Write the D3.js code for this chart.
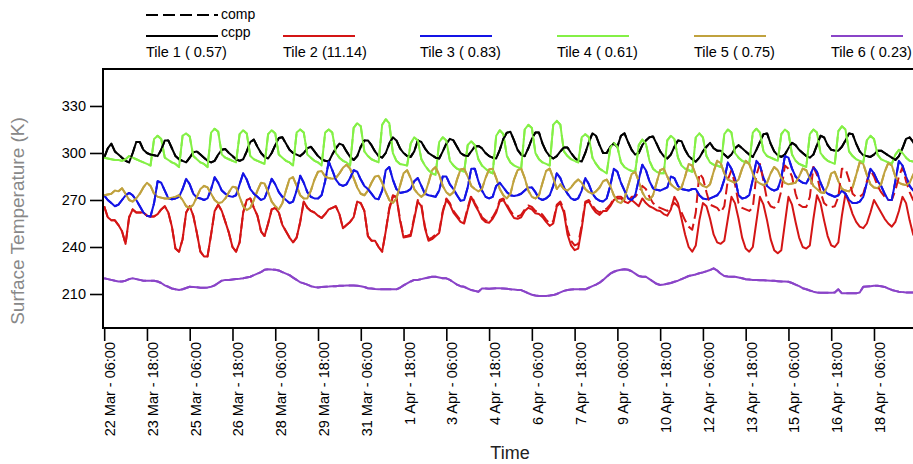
<!DOCTYPE html>
<html>
<head>
<meta charset="utf-8">
<script src="https://cdn.jsdelivr.net/npm/d3@7"></script>
<style>
  body { margin: 0; background: #fff; }
  text { font-family: "Liberation Sans", Arial, Helvetica, sans-serif; }
</style>
</head>
<body>
<div id="chart"></div>
<script>
// samples every 3 hours, first one at 22 Mar 06:00
var startTime = Date.UTC(2015, 2, 22, 6, 0);
var stepHours = 3;

var tileNames = ["Tile 1 ( 0.57)", "Tile 2 (11.14)", "Tile 3 ( 0.83)", "Tile 4 ( 0.61)", "Tile 5 ( 0.75)", "Tile 6 ( 0.23)"];
var tileColors = ["#000000", "#d41515", "#1414e6", "#84f046", "#c0a23e", "#8a44c8"];

// ccpp, one row per day
var tile1 = [
  297,303,306,301,299,297,295,294,
  300,307,307,302,300,299,298.5,298,
  302,308,308,303,298,296,295,294,
  297,300.5,301,299,297,295,294,295,
  299,302,302.5,300,298,296,295,296,
  301,307,308.5,304,300,297.5,296.5,300,
  305,309.5,310,306,302,300,299,298,
  300,303,304,301,298,296,295,294.5,
  299,303,306,305,301,297.5,295.5,298,
  304,308,308,305,301,298,297,300,
  306,310,308,303,300,298,297.5,301,
  308,307,303,300,298.5,297,296.5,301,
  306,309,308,304,300,298.5,298,301,
  304,304.5,303,300,298,297,296.5,302,
  309,313,313.5,308,302,299,298,303,
  309,313,313,306,301,298,296.5,298,
  301,303.5,303.5,300,297,295,294.5,300,
  307,312.5,311,305,300,300,304,306,
  304,311,312.5,307,302,299,300,305,
  308,310,310.5,306,301,298,296.5,299,
  304,308,307.5,302,298,296,294.5,297,
  301,304,306.5,303,301.5,301.5,299,297,
  299,303,305,303,301,299,297.5,302,
  307,312,312.5,306,301,298.5,297.5,299,
  303,306.5,305,302,300,298,297,299,
  305,311,310,305,302,301.5,301.5,304,
  308,312.5,312,306,301,298.5,298,297.5,
  299,301.5,301.5,300,298.5,297,295.5,298,
  303,309,310,307,303,300,298,297
];
var tile2 = [
  266,259,257,257,254,250,242,259,
  264,262,262,262,260,259.5,259.5,261,
  264,266,262,253,239,237,245,262,
  266,260,249,237,234,234,248,263,
  267,263,256,249,240,237,243,262,
  270,271,265,260,250,247,255,264,
  265,262,254,250,246,243,246,256,
  269,265,263,262,260,258.5,261,264,
  265,266,261,252,254,256,259,269,
  268,263,247,244,244,240,237,250,
  264,272,272,257,246,246.5,247,258,
  269,266,252,244,245,247,249,262,
  270,267,262,259,256,255,264,272,
  267,263,258,256,255.5,258,262,269,
  270,266,262,258.5,258,259,263,265,
  264,261.5,261,259,256,253.5,255,266,
  268,262,248,241,238,239,252,268,
  269,265,262,260.5,263,263,266,270,
  271,271,269,268,270,268,266,271,
  268,266,265,263.5,263,261,260,264,
  272,268,258,248,240,237,241,257,
  268,266,258,248,243,242,244,258,
  272,268,258,246,239,237,240,256,
  272,267,257,245,238,236,238,255,
  272,267,256,246,240,239,241,258,
  273,268,257,247,241,240,243,260,
  274,268,261,256,253,252,255,262,
  270,266,262,258,255,253,256,263,
  272,268,257,248,244,243,246,258
];
var tile3 = [
  273,270,268,266,267,270,273,274.5,
  273,270,266,262,260,259.5,268,282,
  281,276,271,270.5,271,272,277,283.5,
  280,274,271.5,271,270,271,277,284.5,
  281,276,274,272.5,272,273,280,287,
  283,277,274,272,270,271,277,283.5,
  280,275,272,270,268,269,276,285.5,
  281,275,272,271,271,273,282,294.5,
  289,283,280,279,280,284,289,288,
  283,279,277,274,271,270.5,276,289,
  291,283,277,274.5,275,275.5,277,282,
  284,279,274,273,272.5,272,276,285,
  285,280,277,273,269.5,270,278,290,
  290,282,276,272,271,272,279,281,
  278,275,273,272.5,273,274,276,278,
  278,275,271,270,271,273,279,287,
  284,278,274,271,270,271,276,284,
  280,274,271,269.5,269,271,279,290,
  288,281,276,271,270,273,283,292.5,
  289,282,277.5,276.5,276,277,278,285,
  284,279,277,276.5,276,277,277,273,
  271,270.5,271,272,273,276,283,294,
  290,284,273,271,271.5,273,283,295,
  292,284,279,277,276,277,284,298,
  297,290,285,282.5,281,280.5,285,291,
  288,281,276,274,273,272,273,276,
  274,270,268,268,269,272,281,290,
  287,282,279,274,270,270,282,295,
  292,285,279,276,274,273,276,285
];
var tile4 = [
  297,296.5,296,295.5,295.5,295,296,298,
  297,296,295,294,293,292,309,311,
  309,297,295.5,294,293,291,311,312.5,
  310.5,298,296,294,293,291,313,315.5,
  313.5,299,297,296,295,294,312,314.5,
  312.5,298,296,295,294,293,312,314.5,
  312.5,299,297,295,294,292,313,315,
  313,299,297,295,294,292,313,315,
  313,300,297,295,294,292,316,319,
  317,301,298,296,295,294,318,321.5,
  319,300,295,293,292.5,292,306,310,
  308,296,292,289,287,286,307,310,
  308,295,292,290,289,288,305,307.5,
  305,296,292,290,288,287,311,314.5,
  312,298,294,292,291,290,315,318,
  316,300,296,294,293,292,318,320.5,
  318,301,298,296,295,294,310,312,
  310,297,293,290,288.5,287,303,306.5,
  304,294,291,289.5,288.5,288,305,308.5,
  306,295,290,288,287,287,308,311,
  309,297,292,290,289,288,310,312.5,
  310,298,294,292.5,292,291,312,315,
  313,300,297,295,294,293,313,315.5,
  313,301,298,297,296,295,312,315,
  313,299,295,293,292,291,312,315,
  313,300,297,295,294,293,314,317,
  315,301,298,296,295,294,308,311,
  309,299,296,295,294,293,299,302,
  300,297,295,294.5,294,294,295,295
];
var tile5 = [
  273,273.5,274,276,275.5,277.5,274,270,
  269,271,274,278,281,279,274,272,
  271.5,271,271,271.5,272,273,270,266,
  265,267,272,277,279,278,274,270,
  268,268.5,271,275,278.5,278,272,266,
  263.5,265,270,276,281,280.5,275,269,
  266,264,268,276,283.5,284.5,279,273,
  271,271,276,283,288,288.5,285,284,
  283.5,284,287,290.5,292.5,290,284,278,
  274,273,276,281,285,285.5,281,275,
  270,268,271,279,287,289,284,277,
  274,272,274,281,289,291,286,279,
  275,273,275,283,289.5,290,285,279,
  277,275.5,277,284,289.5,290,284,277,
  273,271,274,283,289,290,284,276,
  272,271,273,281,288.5,290,284,277,
  280,277,276,278,281,283,281,277,
  275,274,275.5,278,282,283,279,273,
  269,268,271,279,286.5,288,282,275,
  271,270,273,281,289,290,285,280,
  278,276.5,278,285,293,292,286,281,
  279,278,280,288,295,293.5,287,283,
  282,281,283,290,295,293,287,282,
  280.5,279.5,281,287,291,289,284,281,
  280,280.5,281,285,290,289,284,279,
  277,275,274.5,279,287,288,282,277,
  276,275.5,278,286,294,293,286,280,
  278,277.5,280,288,293.5,292,285,281,
  280,279.5,281,286,291,290,284,280
];
var tile6 = [
  220,219.5,219,218.5,218,218,218.5,219.5,
  220,219.5,219,218.5,218.5,218.5,218.5,218,
  217,215.5,214.6,213.5,213,212.6,213,213.8,
  214.6,214.5,214.3,214,214,214.2,214.6,215.5,
  217,218.5,219,219,219.3,219.5,219.7,220,
  220.5,221,222,223,224,225.5,225.8,225.6,
  225.5,225,224,223,222,220.5,219,217.5,
  216.8,216,215,214.5,214.2,214.5,214.7,214.8,
  215,215,215.2,215.3,215.5,215.5,215.5,215.3,
  215,214.5,213.7,213.5,213.2,213,213,213,
  213,213,213,214,215.5,216.8,218,219,
  219,219.5,220,220.5,221,221,220.5,220,
  220,219,217.5,216,215,214.6,213.5,212.5,
  212,211.5,213.5,213.5,213.3,213.5,213.6,213.6,
  213.5,213.3,213,212.8,212.6,212.5,211.5,210.5,
  209.5,209,208.7,208.7,208.8,209,209.3,210,
  211,212,212.6,212.8,213,213,213,213,
  214,215,216,217.2,219,221,223,224.2,
  225,225.5,225.8,225.5,224.5,223,221.5,221,
  221,219.5,218,216.5,215.7,216,216.5,217,
  217.8,218.5,219.5,220.5,221.5,222,222.5,223.2,
  223.8,224.5,225.3,226.4,225,223,221.5,221.2,
  221,221,220.5,220,219.4,219.2,219,218.9,
  218.8,218.7,218.6,218.5,218.4,218.2,218,217.9,
  217.8,217,216,215,213.7,213,212.2,211.5,
  211,210.8,210.8,210.8,210.8,211,213,210.4,
  210.4,210.4,210.4,210.4,211,214.6,214.8,215,
  215.2,215.3,215,214.5,213.5,212.6,212,211.5,
  211.2,211,211,211,211,211,211,211
];

// comp: only tile 2 differs from ccpp in a visible way
var tile2comp = [
  266,259,257,257,254,250,242,259,
  264,262,262,262,260,259.5,259.5,261,
  264,266,262,253,239,237,245,262,
  266,260,249,237,234,234,248,263,
  267,263,256,249,240,237,243,262,
  270,271,265,260,250,247,255,264,
  265,262,254,250,246,243,246,256,
  269,265,263,262,260,258.5,261,264,
  265,266,261,252,254,256,259,269,
  268,263,247,244,244,240,237,250,
  265,273,272,258,247,247,248,259,
  270,267,253,245,246,248,250,263,
  271,268,263,260,257,256,265,273,
  268,264,259,257,256.5,259,263,270,
  271,267,263,260,259.5,260.5,264,266.5,
  265.5,263,262.5,260.5,257.5,255,256.5,267,
  269,264,251,244,241,242,254,269,
  270,266.5,263.5,262,264,264.5,267,271,
  272,272,270,269,272,272,275,279,
  277,272,268,266,265,264,263,266,
  268,266,262,257,253,251,262,287,
  284,275,267,266,265,262,266,283,
  289,280,268,265,264,263,265,286,
  293,282,270,266,265,267,276,292,
  290,285,274,267,265.5,265.5,272,291,
  286,275,268,266,265.5,266,272,290,
  290,283,274,272,272,274,282,289,
  285,279,275,272,270,270,276,285,
  291,282,275,270,268,268,272,285
];

var ccppSeries = [tile1, tile2, tile3, tile4, tile5, tile6];
var compSeries = [tile1, tile2comp, tile3, tile4, tile5, tile6];

var tickTimes = ["2015-03-22T06:00Z","2015-03-23T18:00Z","2015-03-25T06:00Z","2015-03-26T18:00Z",
  "2015-03-28T06:00Z","2015-03-29T18:00Z","2015-03-31T06:00Z","2015-04-01T18:00Z","2015-04-03T06:00Z",
  "2015-04-04T18:00Z","2015-04-06T06:00Z","2015-04-07T18:00Z","2015-04-09T06:00Z","2015-04-10T18:00Z",
  "2015-04-12T06:00Z","2015-04-13T18:00Z","2015-04-15T06:00Z","2015-04-16T18:00Z","2015-04-18T06:00Z"];
var tickLabels = ["22 Mar - 06:00","23 Mar - 18:00","25 Mar - 06:00","26 Mar - 18:00","28 Mar - 06:00",
  "29 Mar - 18:00","31 Mar - 06:00","1 Apr - 18:00","3 Apr - 06:00","4 Apr - 18:00","6 Apr - 06:00",
  "7 Apr - 18:00","9 Apr - 06:00","10 Apr - 18:00","12 Apr - 06:00","13 Apr - 18:00","15 Apr - 06:00",
  "16 Apr - 18:00","18 Apr - 06:00"];
var yTicks = [210, 240, 270, 300, 330];

// plot box (right side runs past the window like in the original)
var W = 913, H = 464;
var box = {left: 103, top: 69, right: 931, bottom: 328};

var svg = d3.select("#chart").append("svg")
    .attr("width", W)
    .attr("height", H);

var x = d3.scaleUtc()
    .domain([new Date(Date.UTC(2015, 2, 22, 5, 0)), new Date(Date.UTC(2015, 3, 20, 6, 0))])
    .range([box.left, box.right]);

var y = d3.scaleLinear()
    .domain([188.3, 353.6])
    .range([box.bottom, box.top]);

function timeAt(i) { return new Date(startTime + i * stepHours * 3600 * 1000); }

svg.append("clipPath").attr("id", "plotclip")
  .append("rect")
    .attr("x", box.left).attr("y", box.top)
    .attr("width", box.right - box.left).attr("height", box.bottom - box.top);

var line = d3.line()
    .x(function(d, i) { return x(timeAt(i)); })
    .y(function(d) { return y(d); });

var plot = svg.append("g").attr("clip-path", "url(#plotclip)");

// solid ccpp lines
ccppSeries.forEach(function(s, k) {
  plot.append("path")
      .datum(s)
      .attr("d", line)
      .attr("fill", "none")
      .attr("stroke", tileColors[k])
      .attr("stroke-width", 2)
      .attr("stroke-linejoin", "round");
});
// dashed comp lines
compSeries.forEach(function(s, k) {
  plot.append("path")
      .datum(s)
      .attr("d", line)
      .attr("fill", "none")
      .attr("stroke", tileColors[k])
      .attr("stroke-width", 2)
      .attr("stroke-dasharray", "11,5")
      .attr("stroke-linejoin", "round");
});

// frame
svg.append("rect")
    .attr("x", box.left).attr("y", box.top)
    .attr("width", box.right - box.left).attr("height", box.bottom - box.top)
    .attr("fill", "none")
    .attr("stroke", "#000")
    .attr("stroke-width", 2);

// Y axis
var yAxis = svg.append("g")
    .attr("transform", "translate(" + box.left + ",0)")
    .call(d3.axisLeft(y).tickValues(yTicks).tickSize(13).tickPadding(4));
yAxis.select(".domain").remove();
yAxis.selectAll("line").attr("stroke-width", 1.6);
yAxis.selectAll("text").style("font-size", "14.5px").attr("fill", "#000");

// X axis
var xAxis = svg.append("g")
    .attr("transform", "translate(0," + box.bottom + ")")
    .call(d3.axisBottom(x)
      .tickValues(tickTimes.map(function(t) { return new Date(t); }))
      .tickSize(13)
      .tickFormat(function(d, i) { return tickLabels[i]; }));
xAxis.select(".domain").remove();
xAxis.selectAll("line").attr("stroke-width", 1.6);
xAxis.selectAll("text")
    .style("font-size", "14.5px")
    .attr("fill", "#000")
    .attr("transform", "rotate(-90)")
    .attr("x", -14)
    .attr("y", 10.5)
    .attr("dy", 0)
    .style("text-anchor", "end");

// axis titles
svg.append("text")
    .attr("transform", "translate(24,221) rotate(-90)")
    .style("text-anchor", "middle")
    .style("font-size", "19px")
    .attr("fill", "#888")
    .text("Surface Temperature (K)");

svg.append("text")
    .attr("x", 510)
    .attr("y", 459)
    .style("text-anchor", "middle")
    .style("font-size", "18px")
    .attr("fill", "#222")
    .text("Time");

// legend
var leg = svg.append("g");
leg.append("line")
    .attr("x1", 146).attr("x2", 218).attr("y1", 15).attr("y2", 15)
    .attr("stroke", "#000").attr("stroke-width", 2).attr("stroke-dasharray", "12,5");
leg.append("text").attr("x", 221).attr("y", 19).style("font-size", "14px").text("comp");
leg.append("line")
    .attr("x1", 146).attr("x2", 218).attr("y1", 36).attr("y2", 36)
    .attr("stroke", "#000").attr("stroke-width", 2);
leg.append("text").attr("x", 221).attr("y", 37).style("font-size", "14px").text("ccpp");

tileNames.forEach(function(name, k) {
  var lx = 146 + k * 137;
  if (k > 0) {
    leg.append("line")
        .attr("x1", lx).attr("x2", lx + 72).attr("y1", 36).attr("y2", 36)
        .attr("stroke", tileColors[k]).attr("stroke-width", 2);
  }
  leg.append("text")
      .attr("x", lx)
      .attr("y", 57)
      .style("font-size", "14.5px")
      .text(name);
});
</script>
</body>
</html>
